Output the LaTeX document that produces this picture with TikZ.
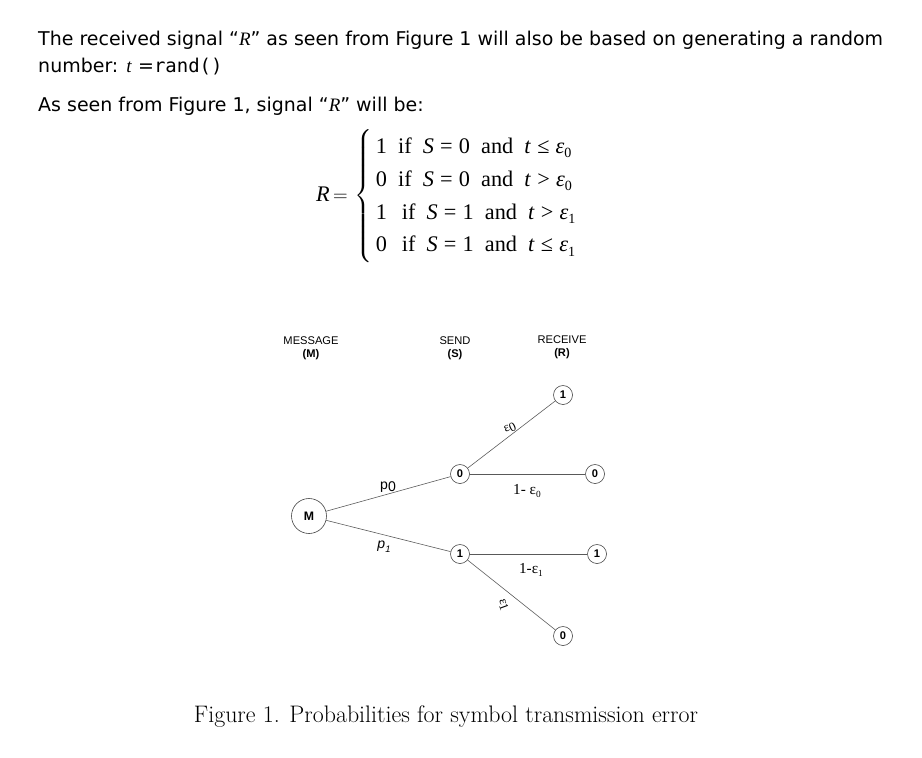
\documentclass[tikz,border=0pt]{standalone}
\usepackage{amsmath}
\usepackage{fontspec}
\newfontfamily\verdanafont{DejaVu Sans}
\newfontfamily\codefont{DejaVu Sans Mono}
\newfontfamily\arialfont{Liberation Sans}
\newfontfamily\timesfont{Liberation Serif}
\usetikzlibrary{positioning}

\newcommand\lowsub[1]{\raisebox{-0.45ex}{\fontsize{12}{13}\selectfont #1}}

\tikzset{
  state/.style={circle, draw=black!75, line width=0.5pt, inner sep=0pt, minimum size=0.57cm, font=\arialfont\bfseries\fontsize{9.5}{11}\selectfont},
  bigstate/.style={state, minimum size=1.05cm, font=\arialfont\bfseries\fontsize{10.5}{12}\selectfont},
  wire/.style={draw=black!65, line width=0.5pt},
  head/.style={align=center, font=\arialfont\fontsize{9.5}{11}\selectfont},
  para/.style={anchor=base west, inner sep=0pt, font=\verdanafont\fontsize{16.2}{19}\selectfont}
}

\begin{document}
\begin{tikzpicture}[x=0.03cm, y=-0.03cm]
\useasboundingbox (0,0) rectangle (922,758);
% Text above the figure
\node[para] (line1) at (38,46) {The received signal “\textit{\timesfont R}” as seen from Figure 1 will also be based on generating a random};
\node[para] (line2) at (38,72) {number: \textit{\timesfont t} ={\codefont rand()}};
\node[para] (line3) at (38,111) {As seen from Figure 1, signal “\textit{\timesfont R}” will be:};
% The rule for R
\node[anchor=west, inner sep=0pt] (rule) at (316,196) {\timesfont\fontsize{19}{24}\selectfont\renewcommand\arraystretch{1.17}%
  $\text{\textit{R}}\,{=}\,\left\{\begin{array}{@{\,}l@{}}
  \text{1\ \ if\ \ \textit{S}\;=\;0\ \ and\ \ \textit{t}\;≤\;\textit{ε}\lowsub{0}}\\
  \text{0\ \ if\ \ \textit{S}\;=\;0\ \ and\ \ \textit{t}\;>\;\textit{ε}\lowsub{0}}\\
  \text{1\ \ \,if\ \ \textit{S}\;=\;1\ \ and\ \ \textit{t}\;>\;\textit{ε}\lowsub{1}}\\
  \text{0\ \ \,if\ \ \textit{S}\;=\;1\ \ and\ \ \textit{t}\;≤\;\textit{ε}\lowsub{1}}
  \end{array}\right.$};
% Column headings
\node[head] (hm) at (311,348) {MESSAGE\\\textbf{(M)}};
\node[head] (hs) at (455,348) {SEND\\\textbf{(S)}};
\node[head] (hr) at (562,347) {RECEIVE\\\textbf{(R)}};
% Draw the states
\node[bigstate] (M) at (309,516) {M};
\node[state] (s0) at (460,474) {0};
\node[state] (s1) at (460,554) {1};
\node[state] (r01) at (563,395) {1};
\node[state] (r00) at (595,474) {0};
\node[state] (r11) at (597,554) {1};
\node[state] (r10) at (563,636) {0};
% Draw the branches
\draw[wire] (M) -- (s0);
\draw[wire] (M) -- (s1);
\draw[wire] (s0) -- (r01);
\draw[wire] (s0) -- (r00);
\draw[wire] (s1) -- (r11);
\draw[wire] (s1) -- (r10);
% Branch labels
\node[font=\arialfont\fontsize{12}{13}\selectfont] (lp0) at (388,487) {p\raisebox{-0.3ex}{0}};
\node[font=\arialfont\itshape\fontsize{12}{13}\selectfont] (lp1) at (384,547) {p\raisebox{-0.5ex}{\footnotesize 1}};
\node[font=\timesfont\fontsize{11}{12}\selectfont, rotate=25] (le0) at (510,428) {ε\raisebox{-0.3ex}{0}};
\node[font=\timesfont\fontsize{13}{14}\selectfont] (l1e0) at (527,491) {1- ε\raisebox{-0.5ex}{\footnotesize 0}};
\node[font=\timesfont\fontsize{13}{14}\selectfont] (l1e1) at (531,570) {1-ε\raisebox{-0.5ex}{\footnotesize 1}};
\node[font=\timesfont\fontsize{11}{12}\selectfont, rotate=-70] (le1) at (503,605) {ε\raisebox{-0.4ex}{1}};
% Caption
\node (caption) at (446,717) {\fontsize{20.4}{24}\selectfont Figure 1. Probabilities for symbol transmission error};
\end{tikzpicture}
\end{document}
